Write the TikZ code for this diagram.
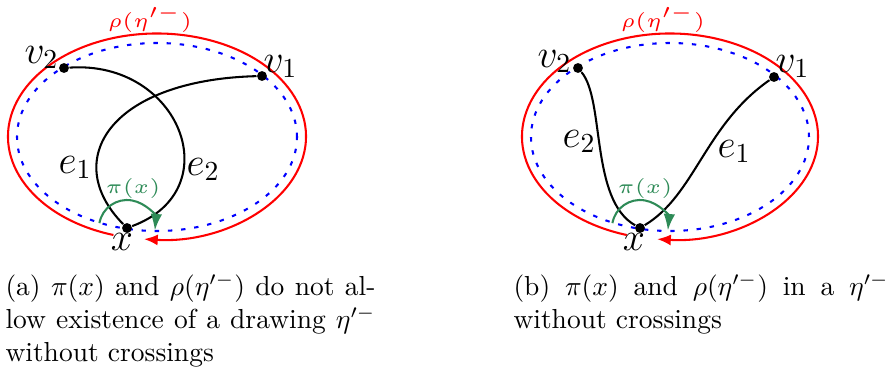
\documentclass[tikz,border=0pt]{standalone}
\usepackage{xcolor}
\definecolor{piGreen}{HTML}{2E8B57}
\usetikzlibrary{arrows.meta, calc}

\begin{document}
\begin{tikzpicture}[x=0.3636pt, y=0.3636pt,
    vtx/.style={circle, fill=black, draw=none, minimum size=3.6pt, inner sep=0pt},
    lbl/.style={font=\Large, inner sep=0pt},
    smalltag/.style={font=\tiny, scale=1.45, transform shape, inner sep=0pt},
    link/.style={line width=0.75pt},
    rim/.style={red, line width=0.75pt, -{Latex[length=5pt, width=4pt]}},
    bound/.style={blue, line width=0.75pt, dash pattern=on 1.6pt off 3.2pt},
    rot/.style={piGreen, line width=0.75pt, -{Latex[length=6pt, width=4.2pt]}},
    captext/.style={anchor=north west, inner sep=0pt, align=justify}]

    \useasboundingbox (0,0) rectangle (894,-374);

    % --- (a) pi(x) and rho force a crossing
    \begin{scope}
        \draw[bound] (157,-137) ellipse[x radius=140, y radius=94];
        \coordinate (arho) at ($(157,-136.5)+(253:149 and 103)$);
        \draw[rim] (arho) arc[start angle=253, end angle=-95, x radius=149, y radius=103];
        \node[smalltag, red, anchor=base] (arholbl) at (150,-27) {$\rho(\eta'^-)$};

        \node[vtx] (av2) at (64,-68) {};
        \node[vtx] (av1) at (262,-76) {};
        \node[vtx] (ax) at (127,-228) {};
        \draw[link] (ax) .. controls (60,-160) and (110,-80) .. (av1);
        \draw[link] (ax) .. controls (230,-190) and (180,-60) .. (av2);
        \draw[rot] ([shift={(170:28)}]ax.center) arc[start angle=170, end angle=-5, radius=28];

        \node[lbl, anchor=base west] (av2lbl) at (24,-63) {$v_2$};
        \node[lbl, anchor=base west] (av1lbl) at (263,-72) {$v_1$};
        \node[lbl, anchor=base west] (ae1lbl) at (58,-173) {$e_1$};
        \node[lbl, anchor=base west] (ae2lbl) at (186,-175) {$e_2$};
        \node[lbl, anchor=base] (axlbl) at (122,-250) {$x$};
        \node[smalltag, piGreen, anchor=base] (apilbl) at (133,-193) {$\pi(x)$};
    \end{scope}

    % --- (b) same rotation system, drawn without crossings
    \begin{scope}[shift={(513,0)}]
        \draw[bound] (157,-137) ellipse[x radius=139, y radius=94];
        \coordinate (brho) at ($(157,-136.5)+(253:148 and 103)$);
        \draw[rim] (brho) arc[start angle=253, end angle=-95, x radius=148, y radius=103];
        \node[smalltag, red, anchor=base] (brholbl) at (150,-27) {$\rho(\eta'^-)$};

        \node[vtx] (bv2) at (65,-68) {};
        \node[vtx] (bv1) at (261,-77) {};
        \node[vtx] (bx) at (127,-228) {};
        \draw[link] (bx) .. controls (77,-200) and (92,-100) .. (bv2);
        \draw[link] (bx) .. controls (182,-195) and (192,-125) .. (bv1);
        \draw[rot] ([shift={(170:28)}]bx.center) arc[start angle=170, end angle=-5, radius=28];

        \node[lbl, anchor=base west] (bv2lbl) at (24,-67) {$v_2$};
        \node[lbl, anchor=base west] (bv1lbl) at (262,-72) {$v_1$};
        \node[lbl, anchor=base west] (be2lbl) at (49,-147) {$e_2$};
        \node[lbl, anchor=base west] (be1lbl) at (204,-157) {$e_1$};
        \node[lbl, anchor=base] (bxlbl) at (121,-250) {$x$};
        \node[smalltag, piGreen, anchor=base] (bpilbl) at (132,-193) {$\pi(x)$};
    \end{scope}

    % --- captions
    \node[captext, text width=134.5pt] (acap) at (5,-273)
        {(a) $\pi(x)$ and $\rho(\eta'^-)$ do not al-\linebreak low existence of a drawing $\eta'^-$\linebreak without crossings};
    \node[captext, text width=136.4pt] (bcap) at (513,-273)
        {(b) $\pi(x)$ and $\rho(\eta'^-)$ in a $\eta'^-$\linebreak without crossings};
\end{tikzpicture}
\end{document}
